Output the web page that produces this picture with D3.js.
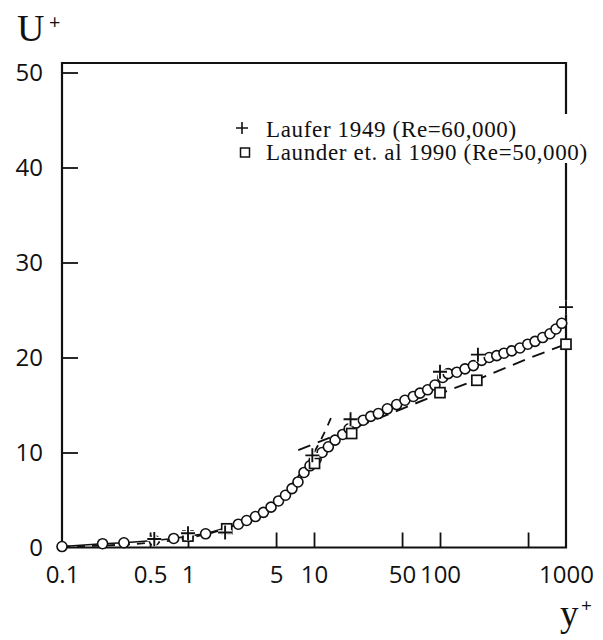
<!DOCTYPE html>
<html>
<head>
<meta charset="utf-8">
<script src="https://cdn.jsdelivr.net/npm/d3@7/dist/d3.min.js"></script>
<style>
  html, body { margin: 0; padding: 0; background: #fff; }
  svg { display: block; }
</style>
</head>
<body>
<svg id="chart" width="603" height="640"></svg>
<script>
// ---- data ----
const presentYPlus = [0.1, 0.21, 0.31, 0.54, 0.77, 1.0, 1.38, 2.51, 2.92, 3.43, 3.97, 4.56, 5.23, 5.94, 6.69, 7.46, 8.33,
  9.29, 10.4, 11.6, 13.0, 14.7, 16.9, 19.0, 21.5, 24.6, 28.2, 32.4, 38.2, 45.3, 52.7, 61.4, 69.4, 79.8, 91.2, 105, 116,
  136, 158, 184, 214, 246, 282, 322, 371, 431, 497, 568, 653, 746, 833, 925];
const presentUPlus = [0.1, 0.4, 0.5, 0.74, 0.95, 1.2, 1.44, 2.45, 2.84, 3.26, 3.7, 4.25, 4.9, 5.5, 6.2, 6.9, 7.9,
  8.6, 9.3, 10.0, 10.6, 11.3, 11.9, 12.5, 13.1, 13.4, 13.8, 14.1, 14.6, 15.05, 15.5, 15.9, 16.25, 16.6, 17.1, 17.9, 18.3,
  18.45, 18.8, 19.15, 19.7, 20.0, 20.2, 20.45, 20.7, 21.0, 21.4, 21.7, 22.1, 22.5, 23.0, 23.6];

const lauferYPlus = [0.54, 1, 1.97, 9.7, 19.5, 100, 200, 1000];
const lauferUPlus = [0.9, 1.5, 1.58, 9.7, 13.5, 18.5, 20.3, 25.3];

const launderYPlus = [1, 2.03, 10.1, 19.9, 100, 196, 1000];
const launderUPlus = [1.2, 1.97, 8.85, 12.0, 16.3, 17.6, 21.4];

// viscous sublayer dashed line
const sublayerYPlus = [0.1, 0.2, 0.5, 1, 2, 3, 5, 7, 9, 11, 13, 14.2];
const sublayerUPlus = [0.1, 0.2, 0.5, 1, 2, 3, 5, 7, 9, 11, 13, 14.2];

// log-law dashed line
const logLawYPlus = [7.5, 20, 50, 100, 200, 500, 1000];
const logLawUPlus = [10.25, 12.5, 14.6, 16.2, 17.7, 19.9, 21.4];

const xTickLabels = [0.1, 0.5, 1, 5, 10, 50, 100, 1000];
const xTickMarks = [0.5, 1, 5, 10, 50, 100, 500];
const yTickValues = [0, 10, 20, 30, 40, 50];

const legendLabels = ["Laufer 1949 (Re=60,000)", "Launder et. al 1990 (Re=50,000)"];

// ---- layout ----
const ink = "#111";
const svg = d3.select("#chart");
const x = d3.scaleLog().domain([0.1, 1000]).range([62, 566]);
const y = d3.scaleLinear().domain([0, 51]).range([547.5, 63]);

// frame
svg.append("path")
  .attr("d", `M${x(0.1)},${y(51)} L${x(1000)},${y(51)} L${x(1000)},${y(0)} L${x(0.1)},${y(0)} Z`)
  .attr("fill", "none").attr("stroke", ink).attr("stroke-width", 2.2);

// x tick marks (inward)
const xTicks = svg.append("g").attr("transform", `translate(0,${y(0)})`)
  .call(d3.axisBottom(x).tickValues(xTickMarks).tickSize(-15).tickFormat(""));
xTicks.select(".domain").remove();
xTicks.selectAll("line").attr("stroke", ink).attr("stroke-width", 1.8);

// x labels
const xLab = svg.append("g").attr("transform", `translate(0,${y(0)})`)
  .call(d3.axisBottom(x).tickValues(xTickLabels).tickSize(0).tickPadding(18)
    .tickFormat(d => String(d)));
xLab.select(".domain").remove();
xLab.selectAll("text").attr("font-family", "'Open Sans', sans-serif").attr("font-size", 24)
  .attr("fill", ink);

// y tick marks (inward)
const yTicks = svg.append("g").attr("transform", `translate(${x(0.1)},0)`)
  .call(d3.axisLeft(y).tickValues(yTickValues.filter(d => d > 0)).tickSize(-16).tickFormat(""));
yTicks.select(".domain").remove();
yTicks.selectAll("line").attr("stroke", ink).attr("stroke-width", 1.8);

// y labels
const yLab = svg.append("g").attr("transform", `translate(${x(0.1)},0)`)
  .call(d3.axisLeft(y).tickValues(yTickValues).tickSize(0).tickPadding(19).tickFormat(d => String(d)));
yLab.select(".domain").remove();
yLab.selectAll("text").attr("font-family", "'Open Sans', sans-serif").attr("font-size", 24)
  .attr("fill", ink);

// axis titles
svg.append("text").attr("x", 17).attr("y", 41)
  .attr("font-family", "'Liberation Serif', serif").attr("font-size", 38).attr("fill", ink).text("U");
svg.append("text").attr("x", 49).attr("y", 29)
  .attr("font-family", "'Open Sans', sans-serif").attr("font-size", 20).attr("fill", ink).text("+");
svg.append("text").attr("x", 560).attr("y", 626)
  .attr("font-family", "'Liberation Serif', serif").attr("font-size", 37).attr("fill", ink).text("y");
svg.append("text").attr("x", 581).attr("y", 612)
  .attr("font-family", "'Open Sans', sans-serif").attr("font-size", 19).attr("fill", ink).text("+");

// lines
const mkLine = (xs, ys, curve) => d3.line().x((d, i) => x(xs[i])).y((d, i) => y(ys[i])).curve(curve || d3.curveLinear)(xs);

svg.append("path").attr("d", mkLine(sublayerYPlus, sublayerUPlus, d3.curveMonotoneX))
  .attr("fill", "none").attr("stroke", ink).attr("stroke-width", 1.8).attr("stroke-dasharray", "8,7");
svg.append("path").attr("d", mkLine(logLawYPlus, logLawUPlus))
  .attr("fill", "none").attr("stroke", ink).attr("stroke-width", 1.9).attr("stroke-dasharray", "13,8");

svg.append("path").attr("d", mkLine(presentYPlus, presentUPlus))
  .attr("fill", "none").attr("stroke", ink).attr("stroke-width", 1.6);

// circles
svg.append("g").selectAll("circle").data(presentYPlus).join("circle")
  .attr("cx", d => x(d)).attr("cy", (d, i) => y(presentUPlus[i])).attr("r", 5)
  .attr("fill", "#fff").attr("stroke", ink).attr("stroke-width", 1.6);

// squares (Launder)
const sq = 10;
svg.append("g").selectAll("rect").data(launderYPlus).join("rect")
  .attr("x", d => x(d) - sq / 2).attr("y", (d, i) => y(launderUPlus[i]) - sq / 2)
  .attr("width", sq).attr("height", sq)
  .attr("fill", "#fff").attr("stroke", ink).attr("stroke-width", 1.7);

// plus markers (Laufer)
const plusPath = (cx, cy, s) => `M${cx - s},${cy} H${cx + s} M${cx},${cy - s} V${cy + s}`;
const plusG = svg.append("g");
plusG.selectAll("path.halo").data(lauferYPlus).join("path").attr("class", "halo")
  .attr("d", (d, i) => plusPath(x(d), y(lauferUPlus[i]), 7))
  .attr("stroke", "#fff").attr("stroke-width", 4.5).attr("fill", "none");
plusG.selectAll("path.mk").data(lauferYPlus).join("path").attr("class", "mk")
  .attr("d", (d, i) => plusPath(x(d), y(lauferUPlus[i]), 7))
  .attr("stroke", ink).attr("stroke-width", 1.9).attr("fill", "none");

// legend
const lg = svg.append("g");
lg.append("rect").attr("x", 232).attr("y", 114).attr("width", 368).attr("height", 49).attr("fill", "#fff");
lg.append("path").attr("d", plusPath(242, 128, 6)).attr("stroke", ink).attr("stroke-width", 1.6).attr("fill", "none");
lg.append("rect").attr("x", 240.5).attr("y", 148).attr("width", 9).attr("height", 9)
  .attr("fill", "#fff").attr("stroke", ink).attr("stroke-width", 1.5);
lg.selectAll("text").data(legendLabels).join("text")
  .attr("x", 266).attr("y", (d, i) => 137 + i * 23)
  .attr("font-family", "'Liberation Serif', serif").attr("font-size", 23)
  .attr("letter-spacing", 0.65).attr("fill", ink)
  .text(d => d);
</script>
</body>
</html>
